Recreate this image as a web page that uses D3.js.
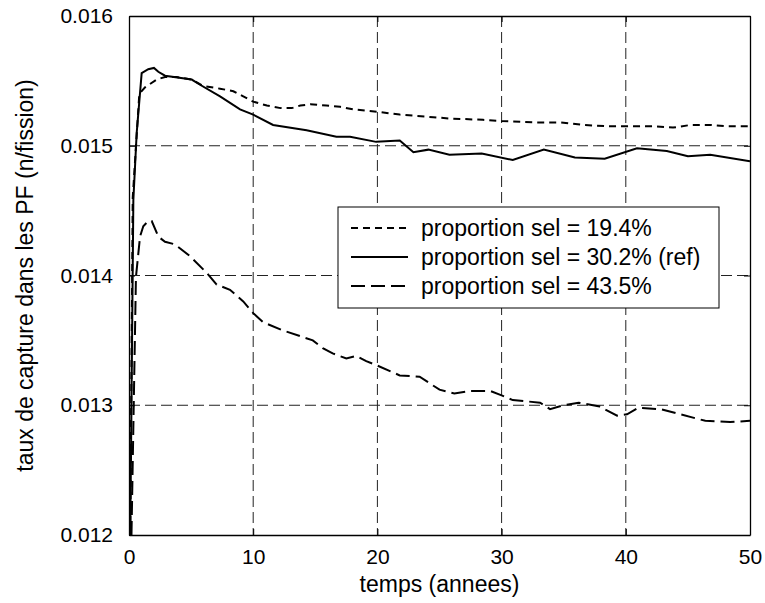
<!DOCTYPE html>
<html>
<head>
<meta charset="utf-8">
<script src="https://cdnjs.cloudflare.com/ajax/libs/d3/7.8.5/d3.min.js"></script>
<style>
  body { margin: 0; background: #fff; }
  text { font-family: "Liberation Sans", Arial, Helvetica, sans-serif; fill: #000; }
</style>
</head>
<body>
<div id="chart"></div>
<script>
// series values: [temps (annees), taux de capture]
const sel194 = [
  [0.1, 0.0120], [0.3, 0.0146], [0.83, 0.01540], [1.29, 0.01545], [2.23, 0.01551],
  [2.9, 0.01553], [3.84, 0.01553], [5.05, 0.01551], [6.0, 0.01546], [7.33, 0.01544],
  [8.4, 0.01542], [9.2, 0.01538], [10.0, 0.01534], [11.1, 0.01531], [12.2, 0.01529],
  [13.1, 0.01529], [13.8, 0.01531], [14.6, 0.01532], [15.9, 0.01531], [17.0, 0.01530],
  [18.1, 0.01528], [19.1, 0.01527], [20.2, 0.01526], [21.8, 0.01524], [24.5, 0.01522],
  [25.8, 0.01521], [28.5, 0.01520], [30.0, 0.01519], [32.6, 0.01518], [34.7, 0.01518],
  [36.6, 0.01516], [38.5, 0.01515], [40.1, 0.01515], [42.2, 0.01515], [43.8, 0.01514],
  [45.2, 0.01516], [46.8, 0.01516], [48.1, 0.01515], [50.0, 0.01515]
];
const sel302 = [
  [0.1, 0.0120], [0.35, 0.01458], [0.62, 0.01510], [1.02, 0.01556], [1.55, 0.01559],
  [2.01, 0.01560], [2.36, 0.01557], [2.9, 0.01554], [5.05, 0.01551], [5.72, 0.01547],
  [7.33, 0.01538], [8.94, 0.01528], [10.0, 0.01524], [11.6, 0.01516], [14.3, 0.01512],
  [16.7, 0.01507], [17.8, 0.01507], [19.9, 0.01503], [21.8, 0.01504], [22.9, 0.01495],
  [24.1, 0.01497], [25.8, 0.01493], [28.4, 0.01494], [30.9, 0.01489], [33.4, 0.01497],
  [35.9, 0.01491], [38.3, 0.01490], [40.9, 0.01498], [43.3, 0.01496], [45.0, 0.01492],
  [46.8, 0.01493], [50.0, 0.01488]
];
const sel435 = [
  [0.2, 0.0120], [0.56, 0.01399], [0.89, 0.01430], [1.15, 0.01438], [1.55, 0.01442],
  [1.83, 0.01442], [2.36, 0.01430], [2.9, 0.01426], [3.7, 0.01424], [4.9, 0.01415],
  [6.26, 0.01402], [7.06, 0.01393], [8.13, 0.01389], [9.2, 0.01380], [10.0, 0.01371],
  [10.8, 0.01364], [12.3, 0.01358], [14.8, 0.01350], [15.6, 0.01344], [16.4, 0.01340],
  [17.5, 0.01336], [18.3, 0.01338], [19.1, 0.01334], [19.9, 0.01331], [21.8, 0.01323],
  [23.4, 0.01322], [25.0, 0.01312], [26.2, 0.01309], [27.5, 0.01311], [29.1, 0.01311],
  [29.9, 0.01308], [30.9, 0.01304], [33.1, 0.01302], [33.9, 0.01297], [35.0, 0.01300],
  [36.2, 0.01302], [37.9, 0.01299], [39.3, 0.01292], [40.1, 0.01293], [41.0, 0.01298],
  [42.8, 0.01297], [44.4, 0.01293], [46.4, 0.01288], [48.4, 0.01287], [50.0, 0.01288]
];
const seriesNames = ["proportion sel = 19.4%", "proportion sel = 30.2% (ref)", "proportion sel = 43.5%"];
const xTicks = [0, 10, 20, 30, 40, 50];
const yTicks = [0.012, 0.013, 0.014, 0.015, 0.016];

const W = 765, H = 603;
const margin = { top: 16, right: 15, bottom: 68, left: 129 },
    width = W - margin.left - margin.right,
    height = H - margin.top - margin.bottom;

const svg = d3.select("#chart")
    .append("svg")
    .attr("width", W)
    .attr("height", H);

const chart = svg.append("g")
    .attr("transform", `translate(${margin.left},${margin.top})`);

const x = d3.scaleLinear().domain([0, 50]).range([0, width]);
const y = d3.scaleLinear().domain([0.012, 0.016]).range([height, 0]);

// grid
chart.append("g")
    .selectAll("line")
    .data(xTicks.slice(1, -1))
    .join("line")
    .attr("x1", d => x(d)).attr("x2", d => x(d))
    .attr("y1", 0).attr("y2", height)
    .attr("stroke", "#222").attr("stroke-width", 1)
    .attr("stroke-dasharray", "11,5");
chart.append("g")
    .selectAll("line")
    .data(yTicks.slice(1, -1))
    .join("line")
    .attr("x1", 0).attr("x2", width)
    .attr("y1", d => y(d)).attr("y2", d => y(d))
    .attr("stroke", "#222").attr("stroke-width", 1)
    .attr("stroke-dasharray", "11,5");

// axes, ticks inside like matlab
chart.append("g")
    .attr("transform", `translate(0,${height})`)
    .call(d3.axisBottom(x).tickValues(xTicks).tickSizeInner(-6).tickSizeOuter(0).tickPadding(14));
chart.append("g")
    .call(d3.axisLeft(y).tickValues(yTicks).tickSizeInner(-6).tickSizeOuter(0).tickPadding(16)
        .tickFormat(d3.format(".3f")));
chart.append("g")
    .call(d3.axisTop(x).tickValues(xTicks).tickSizeInner(-6).tickSizeOuter(0).tickFormat(""));
chart.append("g")
    .attr("transform", `translate(${width},0)`)
    .call(d3.axisRight(y).tickValues(yTicks).tickSizeInner(-6).tickSizeOuter(0).tickFormat(""));

chart.selectAll(".domain").attr("stroke", "#000").attr("stroke-width", 1.3);
chart.selectAll(".tick line").attr("stroke", "#000");
chart.selectAll(".tick text")
    .style("font-family", "'Liberation Sans', Arial, sans-serif")
    .style("font-size", "21px")
    .attr("fill", "#000");

// lines
chart.append("clipPath").attr("id", "clip")
    .append("rect").attr("width", width).attr("height", height);
const line = d3.line().x(d => x(d[0])).y(d => y(d[1]));
const styles = [
  { data: sel194, dash: "7,5" },
  { data: sel302, dash: null },
  { data: sel435, dash: "14,6" }
];
chart.append("g").attr("clip-path", "url(#clip)")
    .selectAll("path")
    .data(styles)
    .join("path")
    .attr("fill", "none")
    .attr("stroke", "#000")
    .attr("stroke-width", 2)
    .attr("stroke-dasharray", d => d.dash)
    .attr("d", d => line(d.data));

// legend
const legend = svg.append("g").attr("transform", "translate(338,207)");
legend.append("rect")
    .attr("width", 381).attr("height", 101)
    .attr("fill", "#fff").attr("stroke", "#000").attr("stroke-width", 1);
const rows = legend.selectAll(".row")
    .data(styles)
    .join("g")
    .attr("transform", (d, i) => `translate(0,${21 + i * 29})`);
rows.append("line")
    .attr("x1", 13).attr("x2", 70)
    .attr("stroke", "#000").attr("stroke-width", 2)
    .attr("stroke-dasharray", d => d.dash);
rows.append("text")
    .attr("x", 83).attr("dy", "0.35em")
    .style("font-size", "23px")
    .text((d, i) => seriesNames[i]);

// axis titles
svg.append("text")
    .attr("x", margin.left + width / 2).attr("y", 592)
    .attr("text-anchor", "middle")
    .style("font-size", "23px")
    .text("temps (annees)");
svg.append("text")
    .attr("transform", `translate(33,${margin.top + height / 2}) rotate(-90)`)
    .attr("text-anchor", "middle")
    .style("font-size", "23px")
    .text("taux de capture dans les PF (n/fission)");
</script>
</body>
</html>
